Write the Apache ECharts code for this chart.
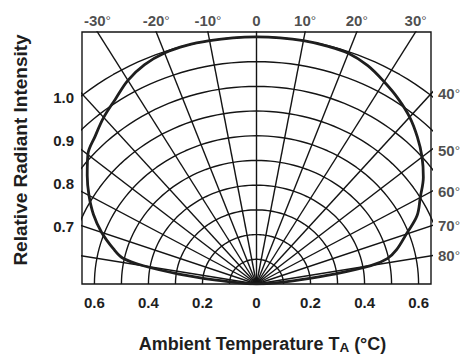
<!DOCTYPE html>
<html>
<head>
<meta charset="utf-8">
<script src="https://cdn.jsdelivr.net/npm/echarts@6/dist/echarts.min.js"></script>
<style>
html, body { margin: 0; padding: 0; background: #fff; }
#chart { width: 462px; height: 357px; }
</style>
</head>
<body>
<div id="chart"></div>
<script>
// emission pattern: angle in degrees (negative = left side), relative intensity
var angles = [-90, -88, -86, -84, -82, -80, -78, -75, -70, -65, -60, -55, -50, -45, -40, -35, -30, -25, -20, -15, -10, -5, 0,
  5, 10, 15, 20, 25, 30, 35, 40, 45, 50, 55, 60, 65, 70, 75, 78, 80, 82, 84, 86, 88, 90];
var intensity = [0, 0.015, 0.06, 0.15, 0.29, 0.425, 0.507, 0.548, 0.61, 0.666, 0.716, 0.765, 0.815, 0.845, 0.88, 0.912, 0.952, 0.98, 0.995, 1.0, 1.0, 1.0, 1.0,
  1.0, 1.0, 0.998, 0.994, 0.975, 0.945, 0.915, 0.882, 0.842, 0.80, 0.754, 0.70, 0.656, 0.59, 0.537, 0.495, 0.43, 0.29, 0.16, 0.07, 0.02, 0];

var arcRadii = [0.1, 0.2, 0.3, 0.4, 0.5, 0.6, 0.7, 0.8, 0.9, 1.0];
var spokeAngles = [-80, -70, -60, -50, -40, -30, -20, -10, 0, 10, 20, 30, 40, 50, 60, 70, 80];
var bottomTicks = [-0.6, -0.4, -0.2, 0, 0.2, 0.4, 0.6];
var leftTicks = [0.7, 0.8, 0.9, 1.0];
var topAngleLabels = [-30, -20, -10, 0, 10, 20, 30];
var sideAngleLabels = [40, 50, 60, 70, 80];

var X_MAX = 0.646, Y_MAX = 1.02;
var FONT = '"Liberation Sans", Arial, Helvetica, sans-serif';
var INK = '#141414';

function rad(d) { return d * Math.PI / 180; }
function polarPt(deg, r) { return [r * Math.sin(rad(deg)), r * Math.cos(rad(deg))]; }
// where a spoke leaves the plot box
function edgePt(deg) {
  var s = Math.abs(Math.sin(rad(deg))), c = Math.cos(rad(deg));
  var t = Math.min(s > 0 ? X_MAX / s : Infinity, Y_MAX / c);
  var p = polarPt(deg, t);
  p.push(deg);
  return p;
}

var gridLine = { color: INK, width: 1.4 };
var series = [];

arcRadii.forEach(function (r) {
  var pts = [];
  for (var a = -90; a <= 90; a += 2) pts.push(polarPt(a, r));
  series.push({ type: 'line', data: pts, showSymbol: false, lineStyle: gridLine, silent: true });
});

spokeAngles.forEach(function (a) {
  series.push({ type: 'line', data: [[0, 0], polarPt(a, 2)], showSymbol: false, lineStyle: gridLine, silent: true });
});

series.push({
  type: 'line',
  name: 'Relative Radiant Intensity',
  data: angles.map(function (a, i) { return polarPt(a, intensity[i]); }),
  smooth: 0.35,
  showSymbol: false,
  lineStyle: { color: '#1e1e1e', width: 2.8 },
  z: 5
});

var angleRich = {
  n: { fontFamily: FONT, fontWeight: 'bold', fontSize: 15, color: '#1e1e1e' },
  d: { fontFamily: FONT, fontWeight: 'normal', fontSize: 13.5, color: '#1e1e1e' }
};
function angleText(p) {
  var a = p.value[2];
  return a === 0 ? '{n|0}' : '{n|' + a + '}{d|°}';
}

series.push({
  type: 'scatter',
  data: topAngleLabels.map(edgePt),
  symbolSize: 0,
  clip: false,
  silent: true,
  label: { show: true, position: 'top', distance: 4, formatter: angleText, rich: angleRich }
});
series.push({
  type: 'scatter',
  data: sideAngleLabels.map(edgePt),
  symbolSize: 0,
  clip: false,
  silent: true,
  label: { show: true, position: 'right', distance: 7, formatter: angleText, rich: angleRich }
});

var labelFont = { fontFamily: FONT, fontWeight: 'bold', fontSize: 15, color: '#1e1e1e' };

var option = {
  animation: false,
  backgroundColor: '#fff',
  grid: {
    left: 82, top: 32, width: 349, height: 252,
    show: true, borderColor: INK, borderWidth: 1.4,
    outerBoundsMode: 'none'
  },
  xAxis: {
    type: 'value',
    min: -X_MAX, max: X_MAX,
    axisLine: { show: false },
    axisTick: { show: false },
    splitLine: { show: false },
    axisLabel: Object.assign({
      customValues: bottomTicks,
      margin: 11,
      formatter: function (v) { return v === 0 ? '0' : Math.abs(v).toFixed(1); }
    }, labelFont),
    name: '{t|Ambient Temperature T}{s|A}{t| (°C)}',
    nameLocation: 'middle',
    nameGap: 49,
    nameTextStyle: {
      padding: [0, 0, 0, 12],
      rich: {
        t: { fontFamily: FONT, fontWeight: 'bold', fontSize: 18, color: '#1e1e1e', lineHeight: 21 },
        s: { fontFamily: FONT, fontWeight: 'bold', fontSize: 13.5, color: '#1e1e1e', lineHeight: 21, verticalAlign: 'bottom' }
      }
    }
  },
  yAxis: [{
    type: 'value',
    min: 0, max: Y_MAX,
    axisLine: { show: false },
    axisTick: { show: false },
    splitLine: { show: false },
    axisLabel: { show: false },
    name: 'Relative Radiant Intensity',
    nameLocation: 'middle',
    nameGap: 52,
    nameTextStyle: { fontFamily: FONT, fontWeight: 'bold', fontSize: 19, color: '#1e1e1e', padding: [0, 0, 0, 16] }
  }, {
    type: 'value',
    position: 'left',
    min: 0.567, max: 1.153,
    axisLine: { show: false },
    axisTick: { show: false },
    splitLine: { show: false },
    axisLabel: Object.assign({
      customValues: leftTicks,
      margin: 8,
      formatter: function (v) { return v.toFixed(1); }
    }, labelFont)
  }],
  series: series
};

var chart = echarts.init(document.getElementById('chart'), null, { renderer: 'svg' });
chart.setOption(option);
</script>
</body>
</html>
